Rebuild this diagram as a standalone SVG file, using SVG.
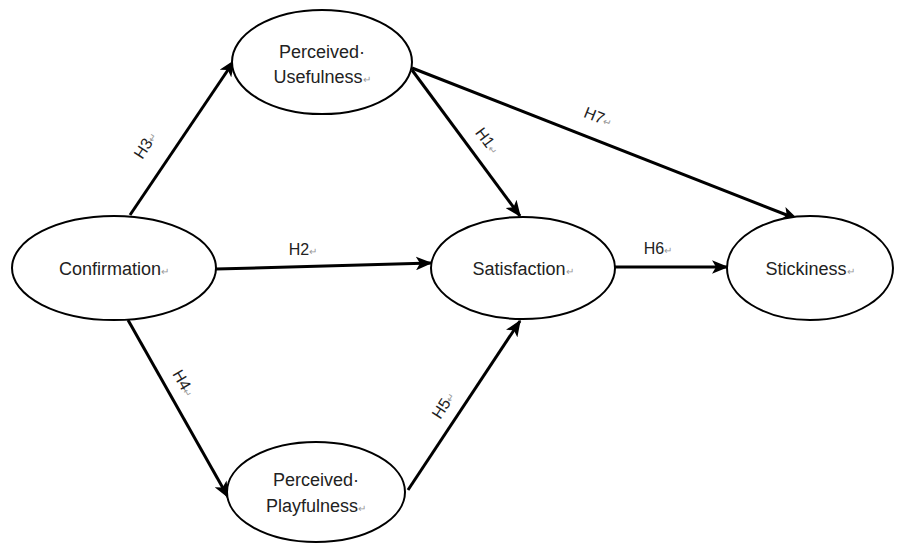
<svg xmlns="http://www.w3.org/2000/svg" width="897" height="545" viewBox="0 0 897 545">
<style>
.node ellipse{fill:#fff;stroke:#000;stroke-width:2}
.t{font-family:"Liberation Sans",Arial,sans-serif;font-size:18px;fill:#222;text-anchor:middle}
.pm{font-size:10px;fill:#999}
.edge{stroke:#000;stroke-width:3;fill:none;marker-end:url(#ah)}
.lb{font-family:"Liberation Sans",Arial,sans-serif;font-size:16px;fill:#222;text-anchor:middle}
</style>
<defs>
<marker id="ah" viewBox="0 0 12 10" refX="11" refY="5" markerWidth="5.5" markerHeight="4.6" orient="auto" markerUnits="strokeWidth">
<path d="M0,0 L12,5 L0,10 L3,5 Z" fill="#000"/>
</marker>
</defs>
<rect width="897" height="545" fill="#fff"/>
<g id="connectors">
<line class="edge" x1="130" y1="215" x2="234" y2="61"/>
<line class="edge" x1="216" y1="269" x2="431" y2="263"/>
<line class="edge" x1="128" y1="320" x2="228" y2="497"/>
<line class="edge" x1="408" y1="490" x2="520" y2="321"/>
<line class="edge" x1="412" y1="70" x2="520" y2="216"/>
<line class="edge" x1="412" y1="68" x2="797" y2="219"/>
<line class="edge" x1="615" y1="267" x2="727" y2="267"/>
<text class="lb" transform="translate(150,148) rotate(-57)">H3<tspan class="pm">↵</tspan></text>
<text class="lb" transform="translate(303,255)">H2<tspan class="pm">↵</tspan></text>
<text class="lb" transform="translate(179,386) rotate(60)">H4<tspan class="pm">↵</tspan></text>
<text class="lb" transform="translate(448,408) rotate(-57)">H5<tspan class="pm">↵</tspan></text>
<text class="lb" transform="translate(483,144) rotate(53)">H1<tspan class="pm">↵</tspan></text>
<text class="lb" transform="translate(596,122) rotate(22)">H7<tspan class="pm">↵</tspan></text>
<text class="lb" transform="translate(658,254)">H6<tspan class="pm">↵</tspan></text>
</g>
<g id="perceived-usefulness" class="node">
<ellipse cx="322" cy="62" rx="90" ry="52"/>
<text class="t" x="322" y="58">Perceived·</text>
<text class="t" x="322" y="83">Usefulness<tspan class="pm">↵</tspan></text>
</g>
<g id="confirmation" class="node">
<ellipse cx="114" cy="268" rx="102" ry="52"/>
<text class="t" x="114" y="275">Confirmation<tspan class="pm">↵</tspan></text>
</g>
<g id="satisfaction" class="node">
<ellipse cx="523" cy="268" rx="92" ry="51"/>
<text class="t" x="523" y="275">Satisfaction<tspan class="pm">↵</tspan></text>
</g>
<g id="stickiness" class="node">
<ellipse cx="810" cy="268" rx="83" ry="52"/>
<text class="t" x="810" y="275">Stickiness<tspan class="pm">↵</tspan></text>
</g>
<g id="perceived-playfulness" class="node">
<ellipse cx="316" cy="492" rx="89" ry="50"/>
<text class="t" x="316" y="486">Perceived·</text>
<text class="t" x="316" y="512">Playfulness<tspan class="pm">↵</tspan></text>
</g>
</svg>
